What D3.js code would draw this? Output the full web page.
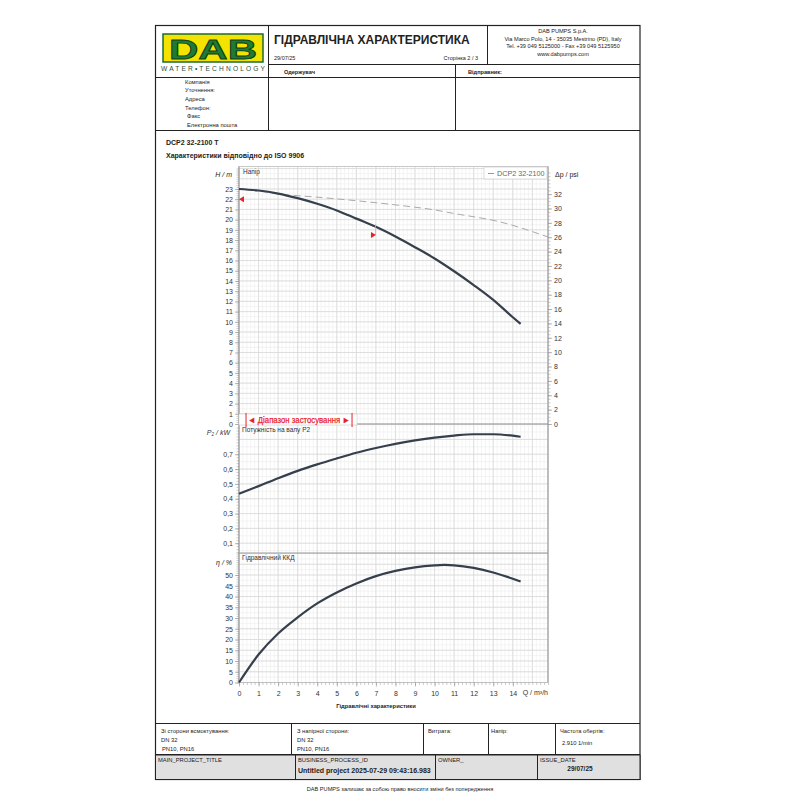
<!DOCTYPE html>
<html>
<head>
<meta charset="utf-8">
<script src="https://cdn.jsdelivr.net/npm/d3@7"></script>
<style>
  body { margin: 0; background: #fff; }
  svg { font-family: "Liberation Sans", Arial, sans-serif; }
</style>
</head>
<body>
<div id="sheet"></div>
<script>
// ---- data ----
const flowTicks = [0, 1, 2, 3, 4, 5, 6, 7, 8, 9, 10, 11, 12, 13, 14];
const headTicks = d3.range(0, 24);
const psiTicks = [0, 2, 4, 6, 8, 10, 12, 14, 16, 18, 20, 22, 24, 26, 28, 30, 32];
const powerTicks = [0.1, 0.2, 0.3, 0.4, 0.5, 0.6, 0.7];
const effTicks = [0, 5, 10, 15, 20, 25, 30, 35, 40, 45, 50];

const headQ = [0, 1, 2, 3, 4, 5, 6, 7, 8, 9, 10, 11, 12, 13, 14, 14.4];
const headH = [23, 22.85, 22.55, 22.1, 21.55, 20.9, 20.1, 19.3, 18.35, 17.3, 16.2, 14.95, 13.6, 12.15, 10.45, 9.8];

const maxQ = [0, 1, 2.1, 4, 6, 8.2, 10, 11, 13.3, 15.8];
const maxH = [23, 22.8, 22.5, 22.2, 21.85, 21.4, 20.95, 20.6, 19.8, 18.3];

const powerQ = [0, 1, 2, 3, 4, 5, 6, 7, 8, 9, 10, 11, 12, 13, 14, 14.4];
const powerP = [0.433, 0.485, 0.538, 0.588, 0.632, 0.672, 0.71, 0.742, 0.77, 0.793, 0.812, 0.826, 0.835, 0.835, 0.825, 0.818];

const effQ = [0, 1, 2, 3, 4, 5, 6, 7, 8, 9, 10, 10.5, 11, 12, 13, 14.4];
const effE = [0, 13, 22.8, 30.3, 36.8, 41.9, 46.1, 49.5, 51.9, 53.6, 54.5, 54.7, 54.5, 53.3, 51.2, 47];

const rangeQ = [0.36, 5.78];
const markQ = [0, 6.9];
const markH = [22.0, 18.5];

const M_TO_PSI = 1.4223;

const W = 800, H = 800;
const svg = d3.select("#sheet").append("svg").attr("width", W).attr("height", H);

// ---- scales ----
const x = d3.scaleLinear().domain([0, 15.8]).range([239, 548]);
const yH = d3.scaleLinear().domain([0, 25.2]).range([424, 166.5]);
const yPsi = d3.scaleLinear().domain([0, 25.2 * M_TO_PSI]).range([424, 166.5]);
const yP = d3.scaleLinear().domain([0.034, 0.904]).range([553, 424]);
const yE = d3.scaleLinear().domain([0, 60.25]).range([682.5, 553]);

const ink = "#222";
const gridMinor = "#ededed";
const gridMajor = "#d6d6d6";

function txt(xp, yp, s, size, opts = {}) {
  const t = svg.append("text").attr("x", xp).attr("y", yp)
    .attr("font-size", size).attr("fill", opts.fill || ink).text(s);
  if (opts.bold) t.attr("font-weight", "bold");
  if (opts.italic) t.attr("font-style", "italic");
  if (opts.anchor) t.attr("text-anchor", opts.anchor);
  return t;
}
function hline(x1, x2, yp, c = ink, w = 1) {
  svg.append("line").attr("x1", x1).attr("x2", x2).attr("y1", yp).attr("y2", yp)
    .attr("stroke", c).attr("stroke-width", w);
}
function vline(xp, y1, y2, c = ink, w = 1) {
  svg.append("line").attr("x1", xp).attr("x2", xp).attr("y1", y1).attr("y2", y2)
    .attr("stroke", c).attr("stroke-width", w);
}

// ---- header ----
svg.append("rect").attr("x", 155.5).attr("y", 25.5).attr("width", 484.5).attr("height", 754)
  .attr("fill", "none").attr("stroke", ink).attr("stroke-width", 1.2);

// logo
svg.append("rect").attr("x", 163).attr("y", 34).attr("width", 100).attr("height", 28)
  .attr("fill", "#f4e300").attr("stroke", "#1d6b30").attr("stroke-width", 1.5);
txt(213, 58.5, "DAB", 27, { bold: true, anchor: "middle", fill: "#1f7a33" })
  .attr("stroke", "#0d3d1a").attr("stroke-width", 0.8)
  .attr("textLength", 88).attr("lengthAdjust", "spacingAndGlyphs");
txt(213, 71, "WATER•TECHNOLOGY", 6.6, { anchor: "middle", fill: "#2c4d37" })
  .attr("textLength", 104).attr("lengthAdjust", "spacing");

vline(268.5, 25, 130);
vline(487.5, 25, 64);
hline(268, 640, 64.5);
hline(155, 640, 77.5);
vline(455.5, 64, 130);
hline(155, 640, 130.5);

txt(274, 44, "ГІДРАВЛІЧНА ХАРАКТЕРИСТИКА", 12, { bold: true });
txt(274, 60, "29/07/25", 5.5);
txt(478, 60, "Сторінка 2 / 3", 5.5, { anchor: "end" });

txt(563, 33, "DAB PUMPS S.p.A.", 5.6, { anchor: "middle" });
txt(563, 40.5, "Via Marco Polo, 14 - 35035 Mestrino (PD), Italy", 5.6, { anchor: "middle" });
txt(563, 48, "Tel. +39 049 5125000 - Fax +39 049 5125950", 5.6, { anchor: "middle" });
txt(563, 55.5, "www.dabpumps.com", 5.6, { anchor: "middle" });

txt(284, 74, "Одержувач", 5.6, { bold: true });
txt(468, 74, "Відправник:", 5.6, { bold: true });

const contactLabels = ["Компанія", "Уточнення:", "Адреса", "Телефон:", "Факс", "Електронна пошта"];
const contactY = [84, 92, 101, 110, 118, 127];
const contactX = [185, 185, 185, 185, 187, 187];
contactLabels.forEach((s, i) => txt(contactX[i], contactY[i], s, 5.8));

txt(166, 145, "DCP2 32-2100 T", 7, { bold: true });
txt(166, 158, "Характеристики відповідно до ISO 9906", 7, { bold: true });

// ---- grids ----
const grid = svg.append("g");
const xMinor = d3.range(0, 15.81, 0.2);
const xMajor = d3.range(0, 16, 1);

function gridBlock(yScale, minorStep, majorStep) {
  const [d0, d1] = yScale.domain();
  const start = Math.ceil(d0 / minorStep) * minorStep;
  const minor = d3.range(start, d1 + 1e-9, minorStep);
  const startM = Math.ceil(d0 / majorStep - 1e-9) * majorStep;
  const major = d3.range(startM, d1 + 1e-9, majorStep);
  const [r0, r1] = yScale.range();
  grid.selectAll(null).data(xMinor).enter().append("line")
    .attr("x1", d => x(d)).attr("x2", d => x(d)).attr("y1", r0).attr("y2", r1)
    .attr("stroke", gridMinor).attr("stroke-width", 0.6);
  grid.selectAll(null).data(minor).enter().append("line")
    .attr("x1", x(0)).attr("x2", x(15.8)).attr("y1", d => yScale(d)).attr("y2", d => yScale(d))
    .attr("stroke", gridMinor).attr("stroke-width", 0.6);
  grid.selectAll(null).data(xMajor).enter().append("line")
    .attr("x1", d => x(d)).attr("x2", d => x(d)).attr("y1", r0).attr("y2", r1)
    .attr("stroke", gridMajor).attr("stroke-width", 0.7);
  grid.selectAll(null).data(major).enter().append("line")
    .attr("x1", x(0)).attr("x2", x(15.8)).attr("y1", d => yScale(d)).attr("y2", d => yScale(d))
    .attr("stroke", gridMajor).attr("stroke-width", 0.7);
}
gridBlock(yH, 0.5, 1);
gridBlock(yP, 0.05, 0.1);
gridBlock(yE, 2.5, 5);

// frame
svg.append("rect").attr("x", x(0)).attr("y", 166.5).attr("width", x(15.8) - x(0)).attr("height", 682.5 - 166.5)
  .attr("fill", "none").attr("stroke", "#bbb").attr("stroke-width", 0.8);
hline(x(0), x(15.8), 424, "#999", 1);
hline(x(0), x(15.8), 553, "#999", 1);
vline(x(0), 166.5, 682.5, "#999", 1);
vline(x(15.8), 166.5, 682.5, "#999", 1);

// ---- axes ----
function styleAxis(g) {
  g.select(".domain").remove();
  g.selectAll(".tick line").attr("stroke", "#888").attr("stroke-width", 0.6);
  g.selectAll(".tick text").attr("font-size", 7).attr("fill", "#333")
    .attr("font-family", "Liberation Sans, Arial, sans-serif");
}
function minorAxis(axisFn, scale, values, size, xy) {
  const g = svg.append("g").attr("transform", xy)
    .call(axisFn(scale).tickValues(values).tickSize(size).tickFormat(""));
  g.select(".domain").remove();
  g.selectAll(".tick line").attr("stroke", "#999").attr("stroke-width", 0.5);
}

const comma = d3.format(".1f");
svg.append("g").attr("transform", `translate(${x(0)},0)`)
  .call(d3.axisLeft(yH).tickValues(headTicks).tickSize(4).tickPadding(2)).call(styleAxis);
minorAxis(d3.axisLeft, yH, d3.range(0, 25.01, 0.2), 2.5, `translate(${x(0)},0)`);

svg.append("g").attr("transform", `translate(${x(15.8)},0)`)
  .call(d3.axisRight(yPsi).tickValues(psiTicks).tickSize(4).tickPadding(2)).call(styleAxis);
minorAxis(d3.axisRight, yPsi, d3.range(0, 35.5, 0.5), 2.5, `translate(${x(15.8)},0)`);

svg.append("g").attr("transform", `translate(${x(0)},0)`)
  .call(d3.axisLeft(yP).tickValues(powerTicks).tickSize(4).tickPadding(2)
    .tickFormat(d => comma(d).replace(".", ","))).call(styleAxis);
minorAxis(d3.axisLeft, yP, d3.range(0.04, 0.9, 0.02), 2.5, `translate(${x(0)},0)`);

svg.append("g").attr("transform", `translate(${x(0)},0)`)
  .call(d3.axisLeft(yE).tickValues(effTicks).tickSize(4).tickPadding(2)).call(styleAxis);
minorAxis(d3.axisLeft, yE, d3.range(0, 60.1, 1), 2.5, `translate(${x(0)},0)`);

svg.append("g").attr("transform", `translate(0,682.5)`)
  .call(d3.axisBottom(x).tickValues(flowTicks).tickSize(4).tickPadding(5)).call(styleAxis);
minorAxis(d3.axisBottom, x, d3.range(0, 15.81, 0.2), 2.5, `translate(0,682.5)`);

// axis titles
txt(232, 177, "H / m", 7, { italic: true, anchor: "end" });
txt(555, 177, "Δp / psi", 7, {});
svg.append("text").attr("x", 230).attr("y", 434.5).attr("font-size", 7).attr("text-anchor", "end")
  .attr("font-style", "italic").attr("fill", "#333")
  .call(t => { t.append("tspan").text("P"); t.append("tspan").attr("font-size", 4.5).attr("dy", 1.5).text("2"); t.append("tspan").attr("dy", -1.5).text(" / kW"); });
txt(232, 564.5, "η / %", 7, { italic: true, anchor: "end" });
txt(548, 695, "Q / m³/h", 7, { fill: "#333", anchor: "end" });
txt(376, 708, "Гідравлічні характеристики", 5.8, { bold: true, anchor: "middle" });

txt(243, 174, "Напір", 6.5, { fill: "#333" });
txt(242, 432, "Потужність на валу  P2", 6.5, { fill: "#333" });
txt(242, 560, "Гідравлічний ККД", 6.5, { fill: "#333" });

// legend
svg.append("rect").attr("x", 484).attr("y", 167).attr("width", 63).attr("height", 12)
  .attr("fill", "#fff").attr("stroke", "#ccc").attr("stroke-width", 0.7);
hline(488, 494, 173.5, "#999", 1);
txt(497, 176, "DCP2 32-2100", 7.2, { fill: "#666" });

// ---- curves ----
const lineH = d3.line().x((d, i) => x(headQ[i])).y(d => yH(d)).curve(d3.curveMonotoneX);
const lineMax = d3.line().x((d, i) => x(maxQ[i])).y(d => yH(d)).curve(d3.curveMonotoneX);
const lineP = d3.line().x((d, i) => x(powerQ[i])).y(d => yP(d)).curve(d3.curveMonotoneX);
const lineE = d3.line().x((d, i) => x(effQ[i])).y(d => yE(d)).curve(d3.curveMonotoneX);

svg.append("path").attr("d", lineMax(maxH)).attr("fill", "none")
  .attr("stroke", "#aaa").attr("stroke-width", 1).attr("stroke-dasharray", "7,4");
const curveColor = "#363f4c";
[[lineH, headH], [lineP, powerP], [lineE, effE]].forEach(([fn, data]) => {
  svg.append("path").attr("d", fn(data)).attr("fill", "none")
    .attr("stroke", curveColor).attr("stroke-width", 2.2);
});

// duty markers
const red = "#e8202a";
vline(x(markQ[1]) + 1.5, yH(19.55), yH(markH[1]), "#f3a0a4", 0.8);
svg.append("path")
  .attr("d", `M${x(markQ[0])},${yH(markH[0])} l5,-3 l0,6 z`).attr("fill", red);
svg.append("path")
  .attr("d", `M${x(markQ[1]) + 2},${yH(markH[1])} l-5,-3 l0,6 z`).attr("fill", red);

// application range
svg.append("rect").attr("x", x(0)).attr("y", 414).attr("width", 118).attr("height", 11)
  .attr("fill", "#fff").attr("stroke", "#ccc").attr("stroke-width", 0.6);
vline(x(rangeQ[0]), 413, 427, red, 1);
vline(x(rangeQ[1]), 413, 427, red, 1);
txt((x(rangeQ[0]) + x(rangeQ[1])) / 2, 423, "◄ Діапазон застосування ►", 9, { fill: red, anchor: "middle" })
  .attr("stroke", red).attr("stroke-width", 0.25)
  .attr("textLength", x(rangeQ[1]) - x(rangeQ[0]) - 4).attr("lengthAdjust", "spacingAndGlyphs");

// ---- footer ----
hline(155, 640, 723.5);
hline(155, 640, 754.5);
svg.append("rect").attr("x", 155.5).attr("y", 755).attr("width", 484.5).attr("height", 24.5)
  .attr("fill", "#e0e0e0").attr("stroke", ink).attr("stroke-width", 1);
[291.5, 423.5, 488.5, 555.5].forEach(v => vline(v, 723.5, 754.5));
[295.5, 435.5, 537.5].forEach(v => vline(v, 755, 779.5));

txt(161, 733, "Зі сторони всмоктування:", 5.8);
txt(161, 742, "DN 32", 5.8);
txt(162, 751, "PN10, PN16", 5.8);
txt(297, 733, "З напірної сторони:", 5.8);
txt(297, 742, "DN 32", 5.8);
txt(297, 751, "PN10, PN16", 5.8);
txt(428, 733, "Витрата:", 5.8);
txt(491, 733, "Напір:", 5.8);
txt(560, 733, "Частота обертів:", 5.8);
txt(562, 745, "2.910 1/min", 5.8);

txt(158, 762, "MAIN_PROJECT_TITLE", 5.8);
txt(298, 762, "BUSINESS_PROCESS_ID", 5.8);
txt(298, 773, "Untitled project 2025-07-29 09:43:16.983", 7, { bold: true });
txt(438, 762, "OWNER_", 5.8);
txt(540, 762, "ISSUE_DATE", 5.8);
txt(580, 771, "29/07/25", 6.5, { bold: true, anchor: "middle" });

txt(400, 791, "DAB PUMPS залишає за собою право вносити зміни без попередження", 5.6, { anchor: "middle" });
</script>
</body>
</html>
